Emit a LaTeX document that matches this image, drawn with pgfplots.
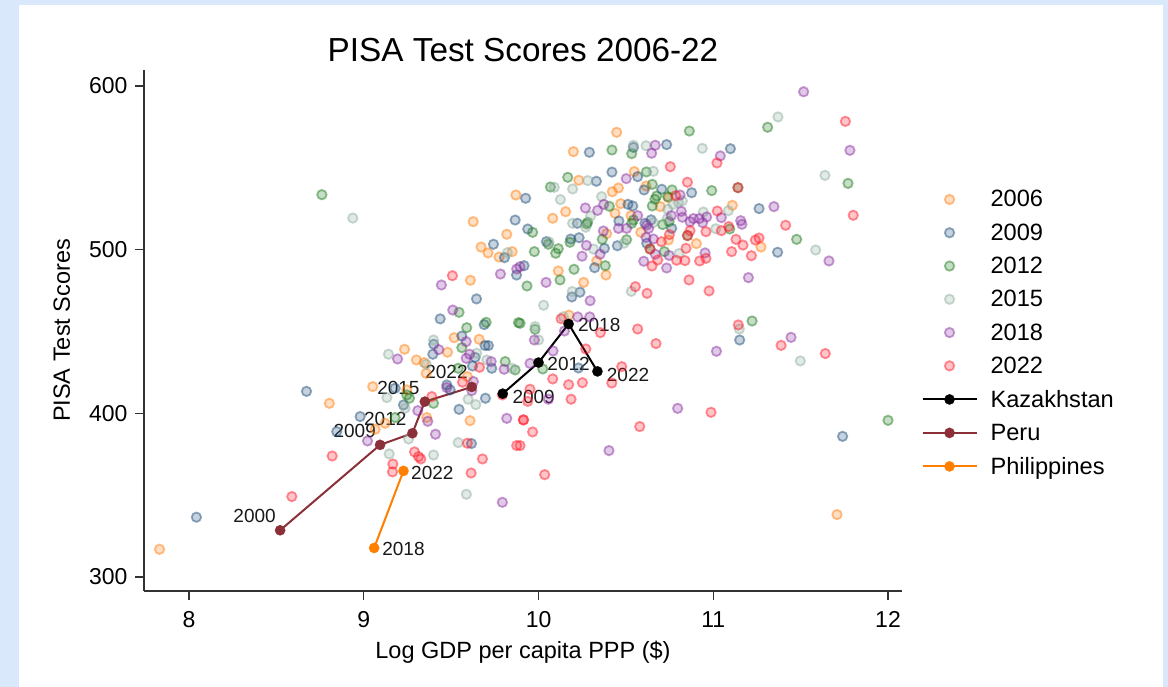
\documentclass[border=0pt]{standalone}
\usepackage{pgfplots}
\pgfplotsset{compat=1.18}
\usepackage{fontspec}
\setmainfont{Liberation Sans}
\definecolor{bgblue}{HTML}{DAE8FC}
\definecolor{cA}{HTML}{FF7F0E}
\definecolor{cB}{HTML}{1F4E79}
\definecolor{cC}{HTML}{1E7B1E}
\definecolor{cD}{HTML}{8FAE9F}
\definecolor{cE}{HTML}{8B2FA0}
\definecolor{cF}{HTML}{FF1A2A}
\definecolor{peru}{HTML}{8B3038}
\definecolor{phil}{HTML}{FF7F00}
\pgfplotsset{
 sc/.style={only marks,mark=*,mark size=4.7pt,
   mark options={draw=#1,fill=#1,line width=1.8pt,draw opacity=.48,fill opacity=.25}},
 ln/.style={color=#1,line width=2pt,mark=*,mark size=5.2pt,
   mark options={draw=#1,fill=#1,line width=0.1pt}},
}
\begin{document}
\begin{tikzpicture}[x=1pt,y=1pt]
\path[use as bounding box,fill=bgblue] (0,0) rectangle (1168,687);
\fill[white] (19,0) rectangle (1163,682);
\begin{axis}[
 at={(144pt,96pt)},anchor=south west,
 scale only axis,width=758pt,height=521pt,
 xmin=7.742,xmax=12.08,ymin=291.4,ymax=609.8,
 axis x line*=bottom,axis y line*=left,
 axis line style={-,line width=1.4pt,color=black!80},
 tick style={line width=1.2pt,color=black!80},
 tick align=outside,
 major tick length=9pt,
 xtick={8,9,10,11,12},ytick={300,400,500,600},
 tick label style={font=\fontsize{23}{25}\selectfont,/pgf/number format/assume math mode=true,/pgf/number format/1000 sep={}},
 xticklabel style={yshift=-8pt},
 yticklabel style={xshift=-4pt},
 xlabel={Log GDP per capita PPP (\$)},ylabel={PISA Test Scores},
 label style={font=\fontsize{23.5}{26}\selectfont},
 xlabel style={yshift=-6pt},
 ylabel style={yshift=12pt},
 title={PISA Test Scores 2006-22},
 title style={font=\fontsize{33.3}{36}\selectfont,yshift=-1pt},
 clip=false,
 legend cell align=left,
 legend style={draw=none,fill=none,at={(1.0255,0.773)},anchor=north west,
   font=\fontsize{23.6}{27}\selectfont,row sep=11.3pt,inner sep=0pt,
   /tikz/every even column/.append style={column sep=15pt},
   /tikz/every odd column/.append style={column sep=11pt}},
 legend image code/.code={\draw[mark repeat=2,mark phase=2,#1] plot coordinates {(0pt,0pt)(27pt,0pt)(54pt,0pt)};},
]
\addplot[sc=cA] coordinates {
(10.447,571.7)(10.199,559.9)(10.548,547.7)(10.23,542.4)(10.457,537.7)(10.422,535.4)(10.615,538.9)(10.47,528.1)
(10.155,523.2)(10.081,519.2)(10.697,526.3)(10.743,531.8)(11.109,527.1)(10.529,520.8)(10.39,509.8)(10.585,510.6)
(10.743,505.9)(10.903,503.7)(11.273,501.6)(10.333,493.1)(10.113,487)(10.386,484.5)(10.258,480)(10.174,460)
(10.438,522.2)(9.87,533.4)(9.626,517.1)(9.818,509.4)(9.671,501.6)(9.711,498)(9.774,495.5)(9.849,498.8)(9.61,481.3)
(9.517,446.2)(9.66,445.2)(9.233,439.1)(9.479,437.3)(9.301,432.6)(9.345,431)(9.357,424.4)(9.593,422.4)(9.051,416.3)
(9.246,414.3)(8.803,406.1)(9.36,397.4)(9.608,395.5)(9.122,393.9)(9.065,390.2)(7.831,316.9)(11.708,338.1)
};
\addlegendentry{2006}
\addplot[sc=cB] coordinates {
(10.291,559.5)(10.543,562.5)(10.733,564.2)(11.098,561.7)(10.42,547.4)(10.331,541.8)(10.567,544.6)(10.604,536.5)
(10.705,536.9)(10.876,534.8)(9.926,531.4)(10.512,527.7)(10.539,526.7)(11.262,525.1)(10.222,516.1)(10.46,517.5)
(10.644,518.2)(10.609,516.1)(10.762,513)(9.938,512.6)(10.184,506.5)(10.232,507.3)(10.045,504.9)(10.451,502.4)
(10.377,500.8)(10.619,503.9)(11.368,498.4)(10.321,489)(9.917,490.2)(10.19,471.1)(10.237,474)(11.151,444.8)
(9.866,518.1)(9.742,503.3)(9.805,495.1)(9.874,484.5)(9.645,469.9)(9.437,457.7)(9.689,454.2)(9.561,447.2)
(8.042,336.5)(8.672,413.4)(8.979,398)(8.845,388.8)(9.4,442.2)(9.395,436.1)(9.713,441.4)(9.694,441.4)(9.637,434.2)
(9.622,428.9)(9.732,427.5)(9.475,417.3)(9.494,414.3)(9.179,415.3)(9.227,405.1)(9.545,402.4)(9.696,409.2)(9.616,381.5)
(11.74,385.9)(10.228,427.7)
};
\addlegendentry{2009}
\addplot[sc=cC] coordinates {
(10.863,572.5)(11.311,574.8)(10.42,560.9)(10.533,558.7)(10.167,544.2)(10.068,538.3)(10.617,547.5)(10.651,539.9)
(11.771,540.5)(10.764,536.5)(10.991,536.1)(10.676,532.8)(10.666,530.8)(10.651,526.7)(10.739,532.4)(10.405,526.5)
(11.141,537.9)(10.281,516.7)(10.275,515.7)(9.966,510.6)(10.543,518.1)(10.533,516.1)(10.71,515.3)(10.747,517.1)
(11.094,512.6)(10.365,506.3)(10.504,506.1)(10.852,508.6)(11.477,506.3)(10.18,504.5)(10.056,503.3)(10.113,500.6)
(10.098,497.8)(9.976,498.8)(10.638,500.4)(10.72,498.8)(10.382,490.2)(10.203,488)(10.123,481.5)(9.934,477.8)
(11.222,456.4)(9.98,451.3)(9.894,455)(8.76,533.6)(9.545,461.7)(9.589,452.3)(9.7,455.6)(9.885,455.4)(9.561,440.1)
(9.809,431.6)(9.866,426.5)(9.54,427.5)(9.246,411.2)(9.261,409.2)(9.399,406.1)(9.179,397.4)(12.0,395.7)(10.024,427.1)
};
\addlegendentry{2012}
\addplot[sc=cD] coordinates {
(10.543,563.8)(10.615,563.5)(10.937,561.9)(11.37,581.1)(11.639,545.4)(10.657,547.9)(10.281,542.2)(10.09,538.1)
(10.195,537.1)(10.125,530.6)(10.361,532.4)(10.823,529.8)(10.77,527.7)(10.8,529)(10.739,524.7)(10.943,523)
(11.086,523.8)(10.298,520.6)(10.195,516.1)(10.27,513.7)(10.657,516.5)(10.737,519.1)(11.014,512.8)(10.06,504.7)
(10.314,500.4)(10.489,503.9)(10.804,497.6)(11.586,499.8)(10.531,474.5)(10.193,474.4)(10.029,466)(11.149,451.5)
(9.98,453)(11.498,432)(10.142,459)(8.937,519.3)(9.822,498.2)(9.399,444.8)(9.141,436.1)(9.357,430)(9.646,436.7)
(9.704,432.6)(9.847,427.5)(9.132,409.6)(9.236,403.1)(9.597,408.6)(9.641,405.3)(9.256,384.3)(9.54,382.1)(9.399,374.5)
(9.145,375.2)(9.587,350.5)(10,444.8)
};
\addlegendentry{2015}
\addplot[sc=cE] coordinates {
(11.517,596.5)(11.782,560.7)(10.668,563.8)(10.647,558.9)(11.04,557.3)(10.502,543.4)(10.81,533.4)(10.268,525.5)
(10.373,527.7)(10.338,524)(11.347,526.3)(10.817,523.4)(10.567,520.8)(10.76,520.8)(10.823,519.8)(10.886,519)
(10.867,517.1)(10.92,519)(10.939,516.5)(10.962,520)(11.046,519.6)(11.157,517.7)(11.164,515.5)(10.619,515)(10.63,513)
(10.457,513)(10.504,513)(10.371,511.4)(10.657,506.5)(10.615,507.5)(10.274,502.6)(10.352,497.2)(10.249,496)(10.668,497.2)
(10.747,496.5)(10.953,498)(10.602,492.9)(10.733,488.8)(11.662,493.1)(10.043,480)(11.201,482.9)(10.295,468.8)(10.224,458.9)
(10.293,458.9)(10.148,450.3)(9.976,444.8)(10.083,438.1)(9.951,430.5)(10.056,408.6)(11.018,437.9)(11.445,446.4)(10.796,403)
(10.403,377.2)(9.894,489.6)(9.444,478.4)(9.782,485.1)(9.875,488.2)(9.509,463.1)(9.586,443.8)(9.429,438.9)(9.586,433.6)
(9.605,436.1)(9.729,431.6)(9.803,426.9)(9.627,419.4)(9.475,415.7)(9.193,433.2)(9.618,413.9)(9.309,401.6)(9.366,395.1)
(9.41,387.2)(9.021,383.1)(9.818,396.9)(9.793,345.6)
};
\addlegendentry{2018}
\addplot[sc=cF] coordinates {
(11.756,578.4)(11.021,553)(10.754,550.7)(10.852,541.2)(10.785,533)(11.141,537.9)(11.023,523.6)(11.414,514.9)(11.801,521)
(11.088,514.1)(11.046,511.6)(10.958,511)(10.867,511.6)(10.749,509.2)(10.853,508.6)(10.703,504.9)(11.13,506.3)(11.241,505.9)
(11.262,507.1)(11.17,502.8)(10.844,500.8)(10.638,500.4)(11.105,498.8)(11.218,496.3)(10.958,494.7)(10.922,493.1)(10.838,493.3)
(10.79,493.5)(10.682,493.7)(10.649,490)(10.861,481.5)(10.976,474.8)(10.554,477.4)(10.621,473.3)(10.129,457.8)(10.567,451.5)
(10.354,449.3)(11.143,454)(10.27,439.3)(10.672,442.6)(11.388,441.5)(11.641,436.5)(10.476,428.5)(10.081,421)(10.172,417.5)
(10.251,418.7)(10.419,418.5)(10.186,408.6)(9.951,414.7)(9.938,407.3)(9.913,395.9)(9.966,388.6)(9.894,380.3)(10.987,400.6)
(10.579,391.9)(10.035,362.5)(9.507,484.1)(9.662,428.1)(9.565,419)(9.389,410.2)(9.793,411.2)(8.819,373.9)(8.588,349.1)
(9.29,376.4)(9.313,373.5)(9.326,372.1)(9.166,369)(9.164,364.2)(9.593,381.7)(9.679,372.1)(9.614,363.5)(9.875,380.3)(9.914,396)
};
\addlegendentry{2022}
\addplot[ln=black] coordinates {(9.795,412)(10.0,431)(10.172,454.6)(10.337,425.6)};
\addlegendentry{Kazakhstan}
\addplot[ln=peru] coordinates {(8.521,328.5)(9.093,380.7)(9.278,387.8)(9.349,407.1)(9.618,416.1)};
\addlegendentry{Peru}
\addplot[ln=phil] coordinates {(9.059,317.7)(9.227,364.8)};
\addlegendentry{Philippines}
\begin{scope}[every node/.style={font=\fontsize{19}{21}\selectfont,inner sep=0pt,text=black!90}]
\node[anchor=west] at (axis cs:9.85,410) {2009};
\node[anchor=west] at (axis cs:10.05,430) {2012};
\node[anchor=west] at (axis cs:10.225,454) {2018};
\node[anchor=west] at (axis cs:10.39,423.5) {2022};
\node[anchor=east] at (axis cs:8.497,337) {2000};
\node[anchor=east] at (axis cs:9.07,389.5) {2009};
\node[anchor=east] at (axis cs:9.245,396.5) {2012};
\node[anchor=east] at (axis cs:9.32,415.5) {2015};
\node[anchor=east] at (axis cs:9.595,425) {2022};
\node[anchor=west] at (axis cs:9.27,363.5) {2022};
\node[anchor=west] at (axis cs:9.105,317) {2018};
\end{scope}
\end{axis}
\end{tikzpicture}
\end{document}
